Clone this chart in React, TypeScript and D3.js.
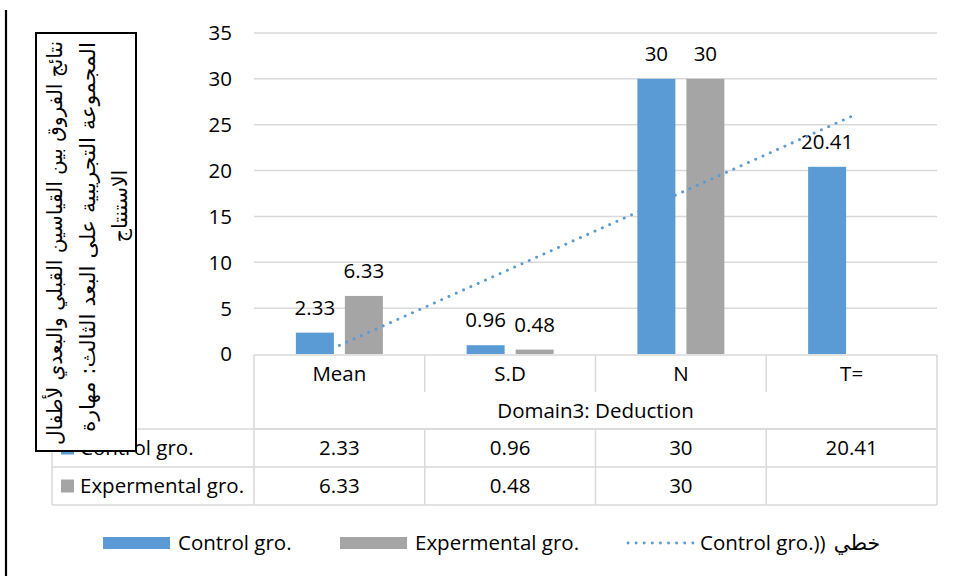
import React from "react";
import * as d3 from "d3";

// Chart data
const categories = ["Mean", "S.D", "N", "T="];
const seriesNames = ["Control gro.", "Expermental gro."];
const controlValues: (number | null)[] = [2.33, 0.96, 30, 20.41];
const experimentalValues: (number | null)[] = [6.33, 0.48, 30, null];
const yTicks = [0, 5, 10, 15, 20, 25, 30, 35];
const domainLabel = "Domain3: Deduction";
const trendLegendLatin = "Control gro.))";
const trendLegendArabic = "خطي";
const boxLines = [
  "نتائج الفروق بين القياسين القبلي والبعدي لأطفال",
  "المجموعة التجريبية على البعد الثالث: مهارة",
  "الاستنتاج",
];

const COLORS = ["#5B9BD5", "#A5A5A5"];
const GRID = "#D9D9D9";
const FONT = "'Open Sans', 'Noto Sans', sans-serif";
const AR_FONT = "'DejaVu Sans', sans-serif";
const FS = 20.5;

export default function App() {
  const W = 960;
  const H = 576;
  const plotLeft = 254;
  const plotRight = 937;
  const plotTop = 33;
  const plotBottom = 354;

  const x = d3.scaleBand<string>().domain(categories).range([plotLeft, plotRight]).padding(0);
  const y = d3.scaleLinear().domain([0, 35]).range([plotBottom, plotTop]);
  const groupW = 87;
  const xs = d3
    .scaleBand<string>()
    .domain(seriesNames)
    .range([0, groupW])
    .paddingInner(0.2245)
    .paddingOuter(0);

  const series = [controlValues, experimentalValues];

  // Linear trend of the control series over category index 1..n
  const pts = controlValues
    .map((v, i) => ({ i: i + 1, v }))
    .filter((p) => p.v != null) as { i: number; v: number }[];
  const mx = d3.mean(pts, (p) => p.i) as number;
  const my = d3.mean(pts, (p) => p.v) as number;
  const sxy = d3.sum(pts, (p) => (p.i - mx) * (p.v - my));
  const sxx = d3.sum(pts, (p) => (p.i - mx) * (p.i - mx));
  const slope = sxy / sxx;
  const intercept = my - slope * mx;
  const cx = (c: string) => (x(c) as number) + x.bandwidth() / 2;
  const trendData = categories.map((c, i) => ({ c, v: intercept + slope * (i + 1) }));
  const trendPath = d3
    .line<{ c: string; v: number }>()
    .x((d) => cx(d.c))
    .y((d) => y(d.v))([trendData[0], trendData[trendData.length - 1]]);

  // Data table geometry
  const tableLeft = 52;
  const rowHeader = [355, 392];
  const rowDomain = [392, 429];
  const rowCtrl = [429, 467];
  const rowExp = [467, 505];

  return (
    <svg
      width={W}
      height={H}
      style={{ position: "fixed", left: 0, top: 0, background: "#fff" }}
      fontFamily={FONT}
    >
      <rect x={0} y={0} width={W} height={H} fill="#fff" />

      {/* gridlines */}
      {yTicks
        .filter((t) => t > 0)
        .map((t) => (
          <line key={t} x1={plotLeft} x2={plotRight} y1={y(t)} y2={y(t)} stroke={GRID} strokeWidth={1.5} />
        ))}

      {/* y tick labels */}
      {yTicks.map((t) => (
        <text key={t} x={232} y={y(t)} dy="0.36em" textAnchor="end" fontSize={FS} fill="#000">
          {t}
        </text>
      ))}

      {/* bars */}
      {series.map((vals, si) =>
        vals.map((v, ci) => {
          if (v == null) return null;
          const c = categories[ci];
          const bx = cx(c) - groupW / 2 + (xs(seriesNames[si]) as number);
          return (
            <rect
              key={`${si}-${ci}`}
              x={bx}
              y={y(v)}
              width={xs.bandwidth()}
              height={y(0) - y(v)}
              fill={COLORS[si]}
            />
          );
        })
      )}

      {/* bar value labels */}
      {series.map((vals, si) =>
        vals.map((v, ci) => {
          if (v == null) return null;
          const c = categories[ci];
          const bx = cx(c) - groupW / 2 + (xs(seriesNames[si]) as number) + xs.bandwidth() / 2;
          return (
            <text key={`l${si}-${ci}`} x={bx} y={y(v) - 18} textAnchor="middle" fontSize={FS} fill="#000">
              {v}
            </text>
          );
        })
      )}

      {/* trend line */}
      <path
        d={trendPath || ""}
        fill="none"
        stroke={COLORS[0]}
        strokeWidth={2.9}
        strokeDasharray="0.1 7.9"
        strokeLinecap="round"
      />

      {/* data table */}
      <g stroke={GRID} strokeWidth={1.5}>
        <line x1={plotLeft} x2={plotRight} y1={rowHeader[0]} y2={rowHeader[0]} />
        <line x1={plotLeft} x2={plotRight} y1={rowDomain[1]} y2={rowDomain[1]} />
        <line x1={tableLeft} x2={plotRight} y1={rowCtrl[0]} y2={rowCtrl[0]} />
        <line x1={tableLeft} x2={plotRight} y1={rowCtrl[1]} y2={rowCtrl[1]} />
        <line x1={tableLeft} x2={plotRight} y1={rowExp[1]} y2={rowExp[1]} />
        <line x1={tableLeft} x2={tableLeft} y1={rowCtrl[0]} y2={rowExp[1]} />
        <line x1={plotLeft} x2={plotLeft} y1={rowHeader[0]} y2={rowExp[1]} />
        <line x1={plotRight} x2={plotRight} y1={rowHeader[0]} y2={rowExp[1]} />
        {categories.slice(1).map((c) => (
          <g key={c}>
            <line x1={x(c)} x2={x(c)} y1={rowHeader[0]} y2={rowHeader[1]} />
            <line x1={x(c)} x2={x(c)} y1={rowCtrl[0]} y2={rowExp[1]} />
          </g>
        ))}
      </g>
      {categories.map((c) => (
        <text key={c} x={cx(c)} y={(rowHeader[0] + rowHeader[1]) / 2} dy="0.36em" textAnchor="middle" fontSize={FS}>
          {c}
        </text>
      ))}
      <text x={(plotLeft + plotRight) / 2} y={(rowDomain[0] + rowDomain[1]) / 2} dy="0.36em" textAnchor="middle" fontSize={FS}>
        {domainLabel}
      </text>
      {[rowCtrl, rowExp].map((row, si) => (
        <g key={si}>
          <rect x={61} y={(row[0] + row[1]) / 2 - 6.5} width={13} height={13} fill={COLORS[si]} />
          <text x={80} y={(row[0] + row[1]) / 2} dy="0.36em" fontSize={FS}>
            {seriesNames[si]}
          </text>
          {series[si].map((v, ci) =>
            v == null ? null : (
              <text key={ci} x={cx(categories[ci])} y={(row[0] + row[1]) / 2} dy="0.36em" textAnchor="middle" fontSize={FS}>
                {v}
              </text>
            )
          )}
        </g>
      ))}

      {/* legend */}
      <g fontSize={FS}>
        <rect x={103} y={537} width={67} height={12} fill={COLORS[0]} />
        <text x={178} y={543} dy="0.36em">{seriesNames[0]}</text>
        <rect x={340} y={537} width={67} height={12} fill={COLORS[1]} />
        <text x={415} y={543} dy="0.36em">{seriesNames[1]}</text>
        <line x1={628} x2={693} y1={543} y2={543} stroke={COLORS[0]} strokeWidth={2.8} strokeDasharray="0.1 8" strokeLinecap="round" />
        <text x={700} y={543} dy="0.36em">
          <tspan>{trendLegendLatin}</tspan>
          <tspan fontFamily={AR_FONT} dx={8}>{trendLegendArabic}</tspan>
        </text>
      </g>

      {/* text box with rotated Arabic caption */}
      <rect x={36} y={33} width={100} height={418} fill="#fff" stroke="#000" strokeWidth={2} />
      {boxLines.map((line, i) => {
        const bx = [62, 95, 127][i];
        const by = [243, 237, 206][i];
        const len = [404, 390, null][i];
        return (
          <text
            key={i}
            transform={`translate(${bx},${by}) rotate(-90)`}
            textAnchor="middle"
            fontFamily={AR_FONT}
            fontSize={20.5}
            direction="rtl"
            {...(len ? { textLength: len, lengthAdjust: "spacingAndGlyphs" } : {})}
          >
            {line}
          </text>
        );
      })}

      {/* left border line */}
      <line x1={6} x2={6} y1={10} y2={H} stroke="#000" strokeWidth={2.2} />
    </svg>
  );
}
